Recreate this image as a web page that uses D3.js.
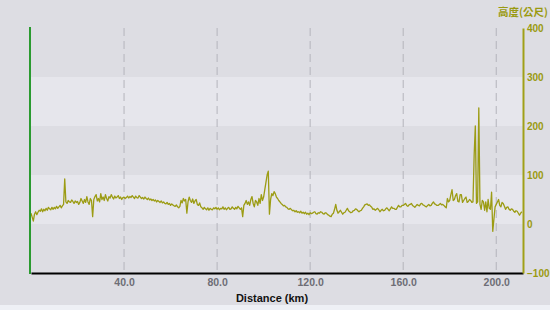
<!DOCTYPE html>
<html><head><meta charset="utf-8">
<script src="https://cdn.jsdelivr.net/npm/d3@7"></script>
<style>body{margin:0;background:#dddde3;overflow:hidden}svg{display:block}</style>
</head><body><svg id="c" width="550" height="310"></svg>
<script>
// elevation samples every 0.5 km, from 0 km
const distanceStepKm = 0.5;
const elevations = [
22,14,6,20,25,19,24,28,26,31,25,30,27,32,28,34,31,29,34,30,
34,31,36,32,35,38,33,37,40,92,45,42,48,45,44,49,46,42,47,44,
46,40,44,52,47,42,50,44,56,45,40,52,48,15,50,56,60,47,52,45,
62,50,55,48,60,52,47,56,53,60,55,51,57,53,55,58,52,55,50,54,
55,52,54,57,53,56,54,58,55,52,57,54,53,58,55,52,54,51,55,52,
50,53,49,51,48,50,47,49,45,48,46,44,47,43,45,42,41,44,40,42,
38,41,39,37,36,39,35,33,36,48,43,52,47,50,22,45,55,48,44,51,
42,47,50,40,38,43,35,33,30,34,31,29,33,28,32,30,29,33,31,34,
30,33,29,32,31,35,30,33,29,32,34,30,31,35,32,30,34,31,36,33,
30,33,15,38,42,48,40,45,38,50,56,42,35,48,45,38,52,42,60,48,
55,70,85,100,108,20,50,62,58,66,62,55,52,48,45,42,40,37,38,35,
34,31,30,32,29,27,28,25,27,24,25,23,26,22,24,21,24,20,22,19,
23,21,22,24,25,21,20,23,22,25,24,21,20,23,22,19,18,16,15,20,
22,30,40,28,22,25,28,24,20,23,24,28,32,27,25,23,24,27,28,31,
30,27,25,27,28,32,35,39,40,41,38,39,36,34,30,31,28,30,32,29,
25,28,30,27,28,31,33,30,27,31,35,32,32,30,30,34,38,35,35,38,
38,40,42,38,36,39,40,42,38,36,34,37,40,38,37,41,42,39,38,36,
35,38,40,37,38,42,45,41,40,38,38,40,42,39,40,38,35,33,52,45,
48,60,70,48,50,58,62,46,45,60,60,44,48,52,55,44,46,50,48,44,
45,140,200,42,45,237,40,30,48,45,28,45,25,50,32,30,65,-15,10,35,
40,45,50,38,35,44,42,36,30,34,35,30,28,31,30,26,24,27,26,22,18,22,25
];
const distances = elevations.map((_, i) => i * distanceStepKm);
const xTicks = [40,80,120,160,200];
const yTicks = [-100,0,100,200,300,400];
const xTitle = "Distance (km)";
const yTitle = "高度(公尺)";

const svg = d3.select("#c");
const L = 31, R = 523, T = 28, B = 273;
const x = d3.scaleLinear().domain([0,211.5]).range([L,R]);
const y = d3.scaleLinear().domain([-100,400]).range([B,T]);

svg.append("rect").attr("x",0).attr("y",305).attr("width",550).attr("height",5).attr("fill","#eef0f5");

const bands = [[0,100],[200,300]];
svg.selectAll("rect.band").data(bands).enter().append("rect")
  .attr("class","band").attr("x",L).attr("width",R-L)
  .attr("y",d=>y(d[1])).attr("height",d=>y(d[0])-y(d[1])).attr("fill","#e6e6ec");

svg.selectAll("line.grid").data(xTicks).enter().append("line")
  .attr("x1",d=>x(d)).attr("x2",d=>x(d)).attr("y1",T).attr("y2",B)
  .attr("stroke","#b4b4bc").attr("stroke-width",1).attr("stroke-dasharray","8,5");

const pts = distances.map((d,i)=>[d,elevations[i]]);
svg.append("path").datum(pts)
  .attr("d",d3.line().x(d=>x(d[0])).y(d=>y(d[1])))
  .attr("fill","none").attr("stroke","#9c9c14").attr("stroke-width",1.3).attr("stroke-linejoin","round");

const xa = svg.append("g").attr("transform",`translate(0,${B})`)
  .call(d3.axisBottom(x).tickValues(xTicks).tickSize(0).tickPadding(6).tickFormat(d3.format(".1f")));
xa.select(".domain").attr("stroke","#000").attr("stroke-width",2);
xa.selectAll("text").attr("fill","#6e6e76").attr("font-family","Liberation Sans, Arial, sans-serif").attr("font-size","10.5px").attr("font-weight","bold");

const ya = svg.append("g").attr("transform",`translate(${R},0)`)
  .call(d3.axisRight(y).tickValues(yTicks).tickSize(0).tickPadding(4));
ya.select(".domain").attr("stroke","#a0a018").attr("stroke-width",2);
ya.selectAll("text").attr("fill","#9a9a10").attr("font-family","Liberation Sans, Arial, sans-serif").attr("font-size","10px").attr("font-weight","bold");

svg.append("line").attr("x1",L-1).attr("x2",L-1).attr("y1",T-1).attr("y2",B+1)
  .attr("stroke","#2a9a30").attr("stroke-width",2);

svg.append("text").attr("x",272).attr("y",302).attr("text-anchor","middle")
  .attr("font-family","Liberation Sans, Arial, sans-serif").attr("font-size","11px").attr("font-weight","bold").attr("fill","#111").text(xTitle);
svg.append("text").attr("x",548).attr("y",16).attr("text-anchor","end")
  .attr("font-family","Noto Sans CJK TC, sans-serif").attr("font-size","10.5px").attr("font-weight","bold").attr("fill","#9a9a10").text(yTitle);
</script></body></html>
